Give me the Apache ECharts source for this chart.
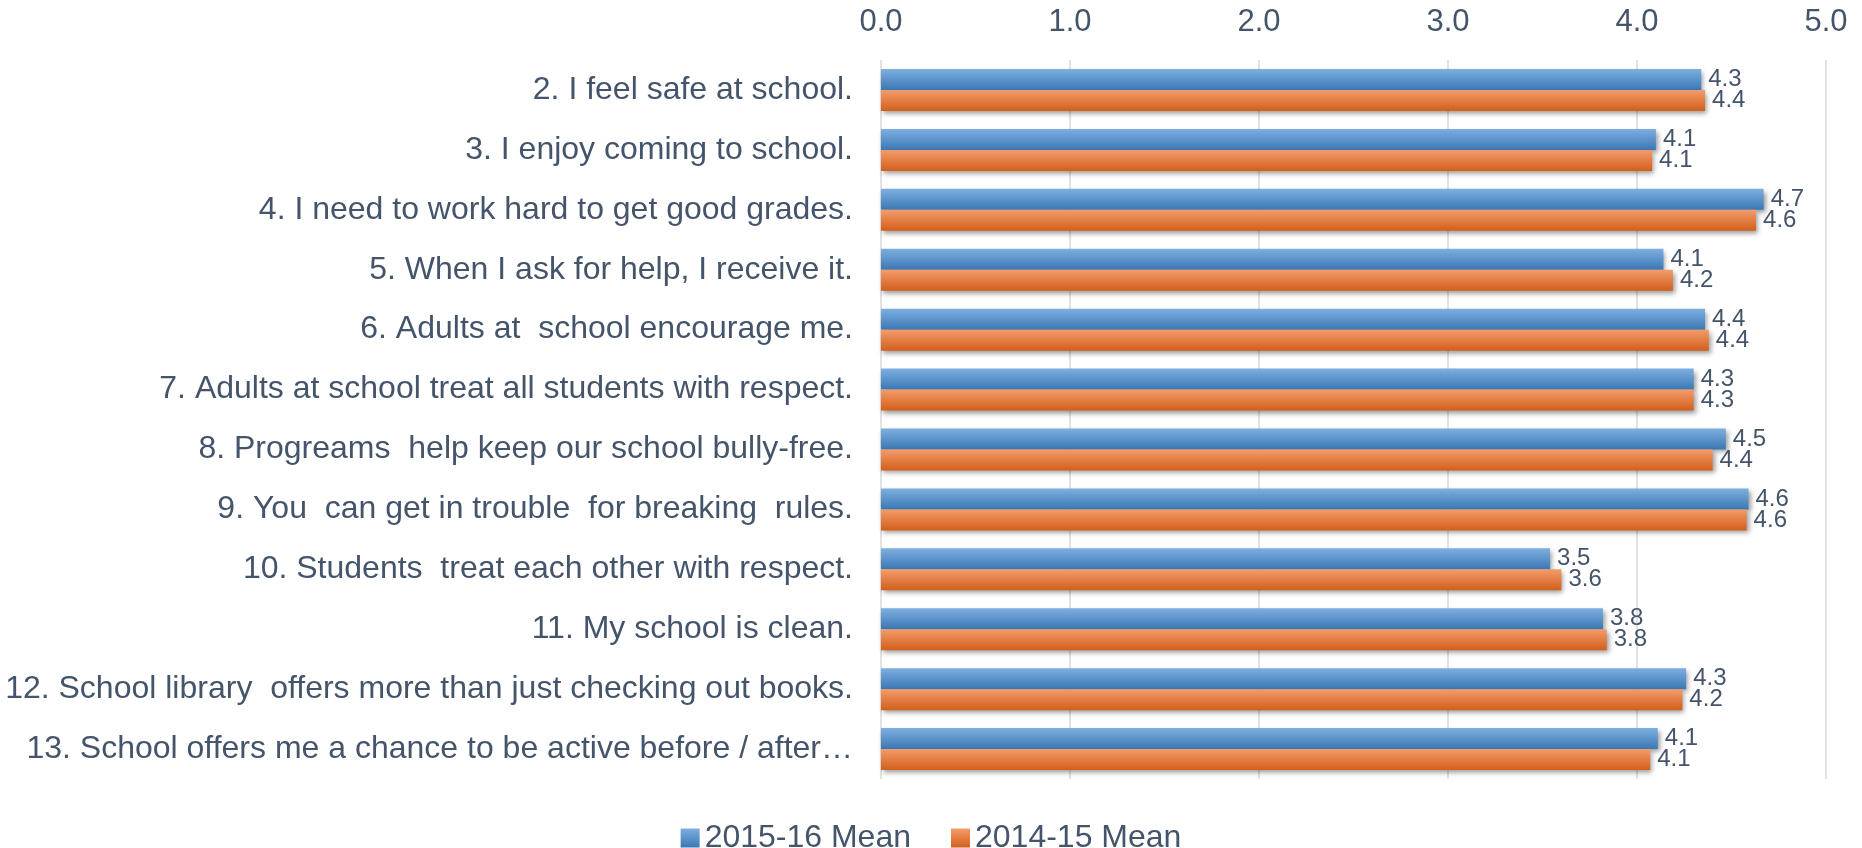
<!DOCTYPE html>
<html>
<head>
<meta charset="utf-8">
<script src="https://cdn.jsdelivr.net/npm/echarts@6/dist/echarts.min.js"></script>
<style>
  html, body { margin: 0; padding: 0; background: #fff; }
  #main { width: 1862px; height: 848px; }
</style>
</head>
<body>
<div id="main"></div>
<script>
var categories = [
  '2. I feel safe at school.',
  '3. I enjoy coming to school.',
  '4. I need to work hard to get good grades.',
  '5. When I ask for help, I receive it.',
  '6. Adults at  school encourage me.',
  '7. Adults at school treat all students with respect.',
  '8. Progreams  help keep our school bully-free.',
  '9. You  can get in trouble  for breaking  rules.',
  '10. Students  treat each other with respect.',
  '11. My school is clean.',
  '12. School library  offers more than just checking out books.',
  '13. School offers me a chance to be active before / after\u2026'
];
var mean2015 = [4.34, 4.10, 4.67, 4.14, 4.36, 4.30, 4.47, 4.59, 3.54, 3.82, 4.26, 4.11];
var mean2014 = [4.36, 4.08, 4.63, 4.19, 4.38, 4.30, 4.40, 4.58, 3.60, 3.84, 4.24, 4.07];
var axisTicks = [0, 1, 2, 3, 4, 5];

var textColor = '#44546a';

function grad(top, bottom) {
  return new echarts.graphic.LinearGradient(0, 0, 0, 1, [
    { offset: 0, color: top },
    { offset: 1, color: bottom }
  ]);
}

function barSeries(name, data, c1, c2) {
  return {
    name: name,
    type: 'bar',
    data: data,
    barWidth: 21,
    barGap: '0%',
    itemStyle: {
      color: grad(c1, c2),
      shadowColor: 'rgba(0,0,0,0.4)',
      shadowBlur: 5,
      shadowOffsetX: 2,
      shadowOffsetY: 3
    },
    label: {
      show: true,
      position: 'right',
      distance: 7,
      color: textColor,
      fontSize: 24,
      fontFamily: 'Liberation Sans',
      formatter: function (p) { return p.value.toFixed(1); }
    }
  };
}

var myChart = echarts.init(document.getElementById('main'));
var option = {
  animation: false,
  legend: {
    top: 817,
    left: 'center',
    itemWidth: 19,
    itemHeight: 19,
    itemGap: 40,
    icon: 'rect',
    textStyle: { color: textColor, fontSize: 32, fontFamily: 'Liberation Sans' },
    data: [
      { name: '2015-16 Mean', itemStyle: { color: grad('#7eafe0', '#3a78b5') } },
      { name: '2014-15 Mean', itemStyle: { color: grad('#f39c6c', '#d35f1b') } }
    ]
  },
  grid: { left: 881, right: 36, top: 60, bottom: 69 },
  xAxis: {
    type: 'value',
    position: 'top',
    min: axisTicks[0],
    max: axisTicks[axisTicks.length - 1],
    interval: 1,
    axisLine: { show: false },
    axisTick: { show: false },
    splitLine: { lineStyle: { color: '#d9d9d9', width: 1.5 } },
    axisLabel: {
      color: textColor,
      fontSize: 31,
      fontFamily: '"Liberation Sans Narrow", "Liberation Sans"',
      margin: 22,
      formatter: function (v) { return v.toFixed(1); }
    }
  },
  yAxis: {
    type: 'category',
    data: categories,
    inverse: true,
    axisLine: { show: false },
    axisTick: { show: false },
    axisLabel: {
      color: textColor,
      fontSize: 32,
      fontFamily: 'Liberation Sans',
      margin: 28
    }
  },
  series: [
    barSeries('2015-16 Mean', mean2015, '#7eafe0', '#3a78b5'),
    barSeries('2014-15 Mean', mean2014, '#f39c6c', '#d35f1b')
  ]
};
option && myChart.setOption(option);
</script>
</body>
</html>
